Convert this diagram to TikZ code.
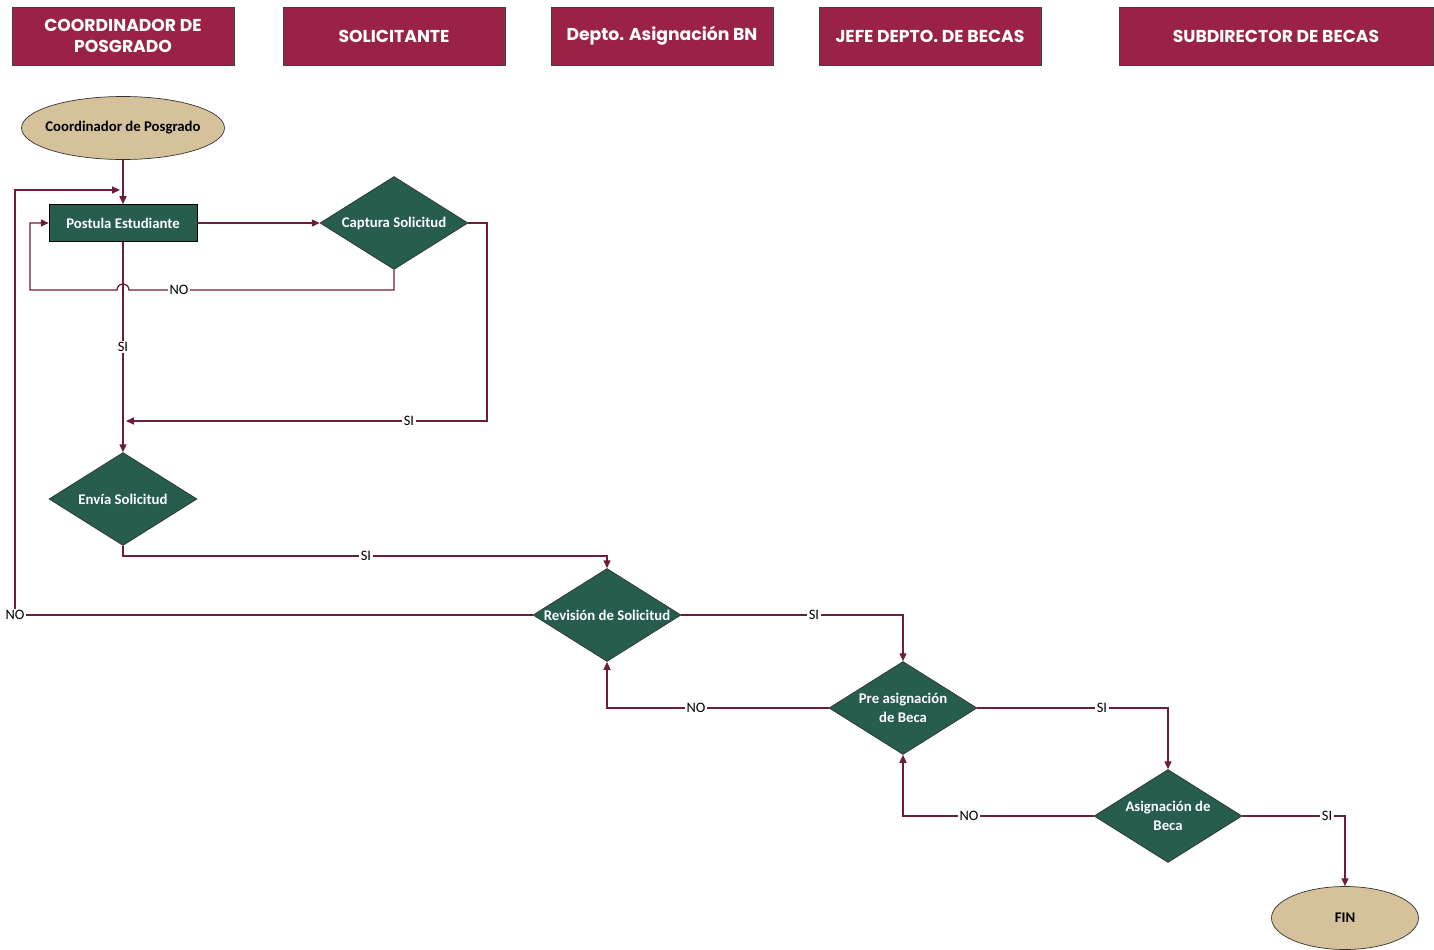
\documentclass[tikz,border=0pt]{standalone}
\usepackage{fontspec}
\usepackage{tikz}
\usetikzlibrary{shapes.geometric,arrows.meta}
\newfontfamily\carlito{Carlito}
\newfontfamily\poppins{Poppins}
\definecolor{guinda}{RGB}{155,34,71}
\definecolor{verde}{RGB}{38,93,78}
\definecolor{arena}{RGB}{214,194,154}
\definecolor{linea}{RGB}{110,28,62}
\tikzstyle{header}=[rectangle,draw=black!75,fill=guinda,text=white,minimum width=4.44cm,minimum height=1.16cm,align=center,font=\poppins\bfseries\fontsize{9.8}{12}\selectfont]
\tikzstyle{terminal}=[ellipse,draw=black!80,fill=arena,minimum width=4.06cm,minimum height=1.26cm,inner sep=0pt]
\tikzstyle{ttext}=[font=\carlito\bfseries\fontsize{8.4}{10}\selectfont]
\tikzstyle{process}=[rectangle,draw=black,fill=verde,text=white,minimum width=2.96cm,minimum height=0.74cm,font=\carlito\bfseries\fontsize{8.4}{10}\selectfont]
\tikzstyle{decision}=[diamond,draw=black!80,fill=verde,minimum width=2.96cm,minimum height=1.86cm,inner sep=0pt]
\tikzstyle{dtext}=[text=white,align=center,font=\carlito\bfseries\fontsize{8.4}{10.8}\selectfont]
\tikzstyle{flow}=[draw=linea,line width=0.75pt,-{Triangle[length=4.5pt,width=4pt]}]
\tikzstyle{lbl}=[fill=white,inner sep=0.8pt,font=\carlito\fontsize{8.2}{9}\selectfont]

\begin{document}
\begin{tikzpicture}[x=0.02cm,y=-0.02cm]
      \useasboundingbox (0,0) rectangle (1434,950);

      % lanes
      \node[header] (hcoord) at (123,36) {COORDINADOR DE\\POSGRADO};
      \node[header] (hsol) at (394,36) {SOLICITANTE};
      \node[header] (hdepto) at (662,36) {Depto. Asignación BN};
      \node[header] (hjefe) at (930,36) {JEFE DEPTO. DE BECAS};
      \node[header, minimum width=6.28cm] (hsub) at (1276,36) {SUBDIRECTOR DE BECAS};

      % steps
      \node[terminal, label={[ttext]center:Coordinador de Posgrado}] (coord) at (123,128) {};
      \node[process] (post) at (123,223) {Postula Estudiante};
      \node[decision, label={[dtext]center:Captura Solicitud}] (cap) at (394,223) {};
      \node[decision, label={[dtext]center:Envía Solicitud}] (env) at (123,499) {};
      \node[decision, label={[dtext]center:Revisión de Solicitud}] (rev) at (607,615) {};
      \node[decision, label={[dtext]center:{Pre asignación\\de Beca}}] (pre) at (903,708) {};
      \node[decision, label={[dtext]center:{Asignación de\\Beca}}] (asg) at (1168,816) {};
      \node[terminal, minimum width=2.94cm, label={[ttext]center:FIN}] (fin) at (1345,918) {};

      \coordinate (retorno) at (120,190);
      \coordinate (union) at (126,421);

      % connectors
      \draw[flow] (coord) -- (post);
      \draw[flow] (rev.west) -- (15,615) node[lbl]{NO} |- (retorno);
      \draw[flow] (post) -- (cap);
      \draw[flow] (cap.south) |- (179,290) node[lbl]{NO} -- (129,290)
        arc[start angle=0,end angle=180,radius=0.12cm] -- (30,290) |- (post.west);
      \draw[flow] (post) -- node[lbl]{SI} (env);
      \draw[flow] (cap.east) -| (487,421) -- (409,421) node[lbl]{SI} -- (union);
      \draw[flow] (env.south) |- (366,556) node[lbl]{SI} -| (rev.north);
      \draw[flow] (rev.east) -- (814,615) node[lbl]{SI} -| (pre.north);
      \draw[flow] (pre.west) -- (696,708) node[lbl]{NO} -| (rev.south);
      \draw[flow] (pre.east) -- (1102,708) node[lbl]{SI} -| (asg.north);
      \draw[flow] (asg.west) -- (969,816) node[lbl]{NO} -| (pre.south);
      \draw[flow] (asg.east) -- (1327,816) node[lbl]{SI} -| (fin.north);
    \end{tikzpicture}
\end{document}
